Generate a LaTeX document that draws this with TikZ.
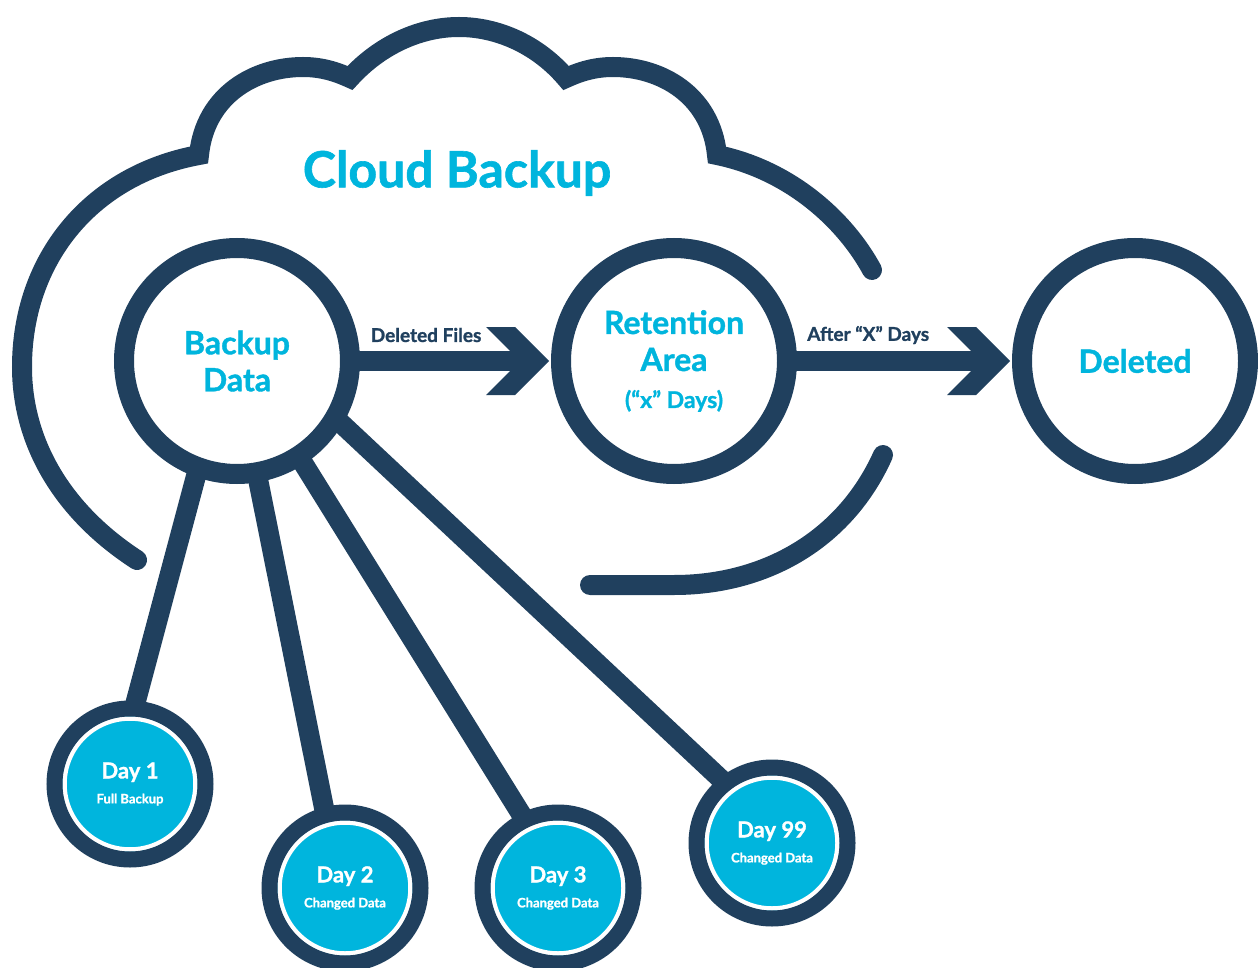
\documentclass[tikz,border=0pt]{standalone}
\usepackage{fontspec}
\setmainfont{Lato}[BoldFeatures={FakeBold=1.2}]
\usetikzlibrary{calc}
\definecolor{navy}{RGB}{32,64,94}
\definecolor{cyanb}{RGB}{0,181,221}
\newcommand\daysub[1]{{\fontsize{13}{15}\selectfont #1}}
\begin{document}
\begin{tikzpicture}[x=1pt,y=-1pt,
  ring/.style={circle, draw=navy, line width=20pt, fill=white, minimum size=226pt,
    inner sep=0pt, outer sep=0pt, align=center, text=cyanb,
    font=\bfseries\fontsize{32}{37}\selectfont},
  day/.style={circle, draw=navy, line width=16pt, fill=cyanb, minimum size=151pt,
    inner sep=0pt, outer sep=0pt, align=center, text=white,
    font=\bfseries\fontsize{22}{25}\selectfont,
    path picture={\draw[white,line width=4.5pt] (path picture bounding box.center) circle[radius=65.5];}},
  link/.style={draw=navy, line width=20pt},
  cloudline/.style={draw=navy, line width=20pt, line cap=round, line join=miter},
  chev/.style={fill=navy},
  lbl/.style={text=navy, font=\bfseries\fontsize{19}{21}\selectfont}]
\useasboundingbox (0,0) rectangle (1258,968);

% cloud outline
\draw[cloudline] (137,560) .. controls (60,510) and (22,440) .. (22,367)
  .. controls (22,260) and (90,175) .. (199,155)
  .. controls (205,95) and (255,67) .. (303,67)
  .. controls (322,67) and (337,72) .. (350,78)
  .. controls (380,45) and (420,27) .. (459,27)
  .. controls (498,27) and (538,45) .. (566,78)
  .. controls (579,72) and (594,67) .. (613,67)
  .. controls (661,67) and (711,95) .. (717,155)
  .. controls (790,170) and (845,220) .. (872,270);
\draw[cloudline] (883,455) .. controls (845,540) and (765,585) .. (674,585) -- (590,585);

\node[text=cyanb, font=\bfseries\fontsize{50}{60}\selectfont] (title) at (457,173) {Cloud Backup};

% main circles
\node[ring] (bd) at (237,361) {Backup\\Data};
\node[ring] (rt) at (674,361) {Retention\\Area\\{\fontsize{23}{24}\selectfont (“x” Days)}};
\node[ring] (dl) at (1135,361) {Deleted};

% day circles
\node[day] (d1) at (130,784) {Day 1\\\daysub{Full Backup}};
\node[day] (d2) at (345,888) {Day 2\\\daysub{Changed Data}};
\node[day] (d3) at (558,888) {Day 3\\\daysub{Changed Data}};
\node[day] (d99) at (772,843) {Day 99\\\daysub{Changed Data}};

% links
\draw[link] (bd.-110) -- (d1.87);
\draw[link] (bd.-80) -- (d2.105);
\draw[link] (bd.-57) -- (d3.116);
\draw[link] (bd.-30) -- (d99.128);

% arrows
\coordinate (tip1) at ([xshift=-12pt]rt.west);
\coordinate (tip2) at ([xshift=-12pt]dl.west);
\draw[link] (bd.east) -- ([xshift=-20pt]tip1)
  node[lbl, pos=0.425, yshift=26pt] {Deleted Files};
\fill[chev] (tip1) -- ++(-34,-34) -- ++(-29,0) -- ++(34,34) -- ++(-34,34) -- ++(29,0) -- cycle;
\draw[link] (rt.east) -- ([xshift=-20pt]tip2)
  node[lbl, pos=0.40, yshift=26pt] {After “X” Days};
\fill[chev] (tip2) -- ++(-34,-34) -- ++(-29,0) -- ++(34,34) -- ++(-34,34) -- ++(29,0) -- cycle;
\end{tikzpicture}
\end{document}
